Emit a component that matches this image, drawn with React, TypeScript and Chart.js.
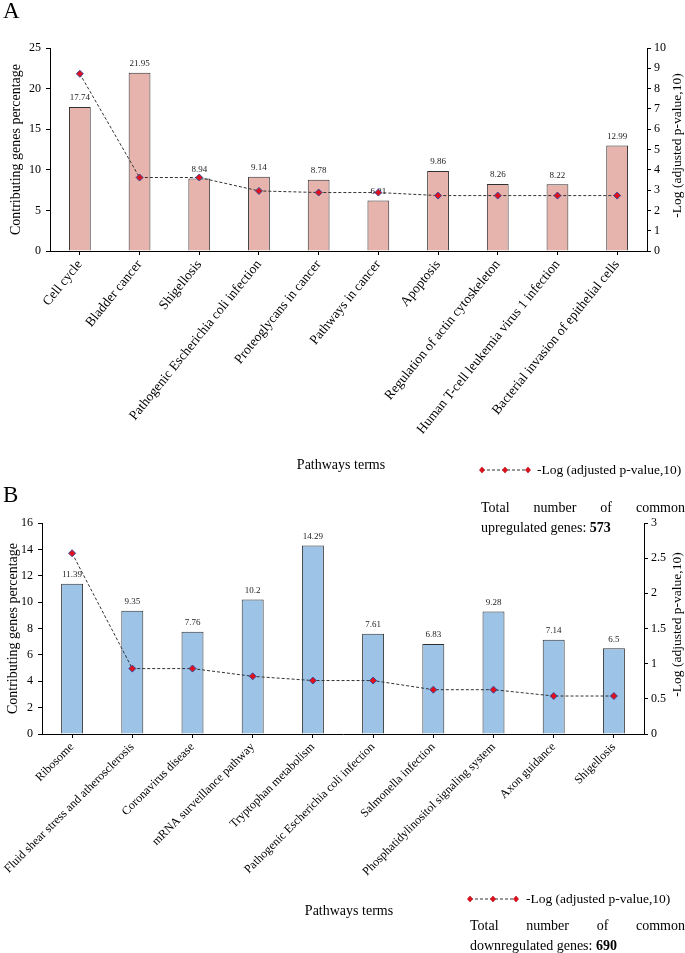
import React, { useEffect, useRef } from "react";
import { Chart, registerables } from "chart.js";

Chart.register(...registerables);

const FONT = '"Liberation Serif", "Times New Roman", Times, serif';

// ---------- Panel A data (upregulated) ----------
const upCategories = [
  "Cell cycle",
  "Bladder cancer",
  "Shigellosis",
  "Pathogenic Escherichia coli infection",
  "Proteoglycans in cancer",
  "Pathways in cancer",
  "Apoptosis",
  "Regulation of actin cytoskeleton",
  "Human T-cell leukemia virus 1 infection",
  "Bacterial invasion of epithelial cells",
];
const upPercent = [17.74, 21.95, 8.94, 9.14, 8.78, 6.21, 9.86, 8.26, 8.22, 12.99];
const upLogP = [8.73, 3.62, 3.62, 2.96, 2.88, 2.88, 2.73, 2.73, 2.73, 2.73];
const upLeftAxis = [0, 25, 5];
const upRightAxis = [0, 10, 1];
const upTotal = "573";

// ---------- Panel B data (downregulated) ----------
const downCategories = [
  "Ribosome",
  "Fluid shear stress and atherosclerosis",
  "Coronavirus disease",
  "mRNA surveillance pathway",
  "Tryptophan metabolism",
  "Pathogenic Escherichia coli infection",
  "Salmonella infection",
  "Phosphatidylinositol signaling system",
  "Axon guidance",
  "Shigellosis",
];
const downPercent = [11.39, 9.35, 7.76, 10.2, 14.29, 7.61, 6.83, 9.28, 7.14, 6.5];
const downLogP = [2.57, 0.93, 0.93, 0.82, 0.76, 0.76, 0.63, 0.63, 0.54, 0.54];
const downLeftAxis = [0, 16, 2];
const downRightAxis = [0, 3, 0.5];
const downTotal = "690";

const LEFT_TITLE = "Contributing genes percentage";
const RIGHT_TITLE = "-Log (adjusted p-value,10)";

type PanelSpec = {
  categories: string[];
  percent: number[];
  logP: number[];
  leftAxis: number[];
  rightAxis: number[];
  barColor: string;
  canvasTop: number;
  canvasHeight: number;
  area: { left: number; right: number; top: number; bottom: number }; // page coords
  leftTitleX: number;
  rightTitleX: number;
  labelSize: number;
  labelRotation: number;
};

const W = 685;

const barLabelPlugin = {
  id: "barLabels",
  afterDatasetDraw(chart: any, args: any) {
    const ds = chart.data.datasets[args.index];
    if (ds.type !== "bar") return;
    const ctx = chart.ctx;
    ctx.save();
    ctx.font = `9px ${FONT}`;
    ctx.fillStyle = "#222";
    ctx.textAlign = "center";
    ctx.textBaseline = "middle";
    args.meta.data.forEach((el: any, i: number) => {
      ctx.fillText(String(ds.data[i]), el.x, el.y - 9);
    });
    ctx.restore();
  },
};

function makeTitlePlugin(spec: PanelSpec) {
  return {
    id: "axisTitles",
    afterDraw(chart: any) {
      const ctx = chart.ctx;
      const a = chart.chartArea;
      const mid = (a.top + a.bottom) / 2;
      ctx.save();
      ctx.fillStyle = "#000";
      ctx.textAlign = "center";
      ctx.textBaseline = "middle";
      ctx.save();
      ctx.font = `14px ${FONT}`;
      ctx.translate(spec.leftTitleX, mid);
      ctx.rotate(-Math.PI / 2);
      ctx.fillText(LEFT_TITLE, 0, 0);
      ctx.restore();
      ctx.save();
      ctx.font = `13.5px ${FONT}`;
      ctx.translate(spec.rightTitleX, mid - 4);
      ctx.rotate(-Math.PI / 2);
      ctx.fillText(RIGHT_TITLE, 0, 0);
      ctx.restore();
      ctx.restore();
    },
  };
}

function buildConfig(spec: PanelSpec): any {
  const tickFont = { family: FONT, size: 12 };
  const topPad = spec.area.top - spec.canvasTop;
  const xHeight = spec.canvasTop + spec.canvasHeight - spec.area.bottom;
  return {
    type: "bar",
    data: {
      labels: spec.categories,
      datasets: [
        {
          type: "line",
          label: RIGHT_TITLE,
          data: spec.logP,
          yAxisID: "y1",
          order: 0,
          borderColor: "#333",
          borderWidth: 1,
          borderDash: [3, 2],
          tension: 0,
          fill: false,
          pointStyle: "rectRot",
          pointRadius: 3.5,
          pointBackgroundColor: "#E3101C",
          pointBorderColor: "#3B4A9A",
          pointBorderWidth: 1,
        },
        {
          type: "bar",
          label: LEFT_TITLE,
          data: spec.percent,
          yAxisID: "y",
          order: 1,
          backgroundColor: spec.barColor,
          borderColor: "#2f2f2f",
          borderWidth: 1,
          barPercentage: 0.365,
          categoryPercentage: 1,
        },
      ],
    },
    options: {
      responsive: false,
      maintainAspectRatio: false,
      animation: false,
      layout: { padding: { top: topPad, left: 0, right: 0, bottom: 0 } },
      plugins: {
        legend: { display: false },
        tooltip: { enabled: false },
        title: { display: false },
      },
      scales: {
        x: {
          type: "category",
          offset: true,
          grid: {
            display: true,
            drawOnChartArea: false,
            drawTicks: true,
            tickLength: 4,
            offset: false,
            color: "#000",
          },
          border: { display: true, color: "#000", width: 1 },
          ticks: {
            autoSkip: false,
            maxRotation: spec.labelRotation,
            minRotation: spec.labelRotation,
            padding: 2,
            color: "#000",
            font: { family: FONT, size: spec.labelSize },
          },
          afterFit: (s: any) => {
            s.height = xHeight;
          },
        },
        y: {
          position: "left",
          min: spec.leftAxis[0],
          max: spec.leftAxis[1],
          grid: {
            display: true,
            drawOnChartArea: false,
            drawTicks: true,
            tickLength: 4,
            color: "#000",
          },
          border: { display: true, color: "#000", width: 1 },
          ticks: {
            stepSize: spec.leftAxis[2],
            padding: 5,
            color: "#000",
            font: tickFont,
            callback: (v: any) => String(v),
          },
          afterFit: (s: any) => {
            s.width = spec.area.left;
          },
        },
        y1: {
          position: "right",
          min: spec.rightAxis[0],
          max: spec.rightAxis[1],
          grid: {
            display: true,
            drawOnChartArea: false,
            drawTicks: true,
            tickLength: 4,
            color: "#000",
          },
          border: { display: true, color: "#000", width: 1 },
          ticks: {
            stepSize: spec.rightAxis[2],
            padding: 3,
            color: "#000",
            font: tickFont,
            callback: (v: any) => String(v),
          },
          afterFit: (s: any) => {
            s.width = W - spec.area.right;
          },
        },
      },
    },
    plugins: [barLabelPlugin, makeTitlePlugin(spec)],
  };
}

function Panel({ spec }: { spec: PanelSpec }) {
  const ref = useRef<HTMLCanvasElement | null>(null);
  useEffect(() => {
    if (!ref.current) return;
    const chart = new Chart(ref.current, buildConfig(spec));
    return () => chart.destroy();
  }, []);
  return (
    <canvas
      ref={ref}
      width={W}
      height={spec.canvasHeight}
      style={{
        position: "absolute",
        left: 0,
        top: spec.canvasTop,
        width: W,
        height: spec.canvasHeight,
      }}
    />
  );
}

function LegendSymbol() {
  return (
    <svg width="52" height="10" style={{ display: "block" }}>
      <line x1="3" y1="5" x2="49" y2="5" stroke="#333" strokeWidth="1" strokeDasharray="3 2" />
      {[3, 26, 49].map((cx) => (
        <polygon
          key={cx}
          points={`${cx},2 ${cx + 2.6},5 ${cx},8 ${cx - 2.6},5`}
          fill="#E3101C"
          stroke="#B0101C"
          strokeWidth="0.6"
        />
      ))}
    </svg>
  );
}

const panelA: PanelSpec = {
  categories: upCategories,
  percent: upPercent,
  logP: upLogP,
  leftAxis: upLeftAxis,
  rightAxis: upRightAxis,
  barColor: "#E6B4AC",
  canvasTop: 0,
  canvasHeight: 460,
  area: { left: 50, right: 647, top: 48, bottom: 251 },
  leftTitleX: 16,
  rightTitleX: 677,
  labelSize: 13.5,
  labelRotation: 51,
};

const panelB: PanelSpec = {
  categories: downCategories,
  percent: downPercent,
  logP: downLogP,
  leftAxis: downLeftAxis,
  rightAxis: downRightAxis,
  barColor: "#9DC3E6",
  canvasTop: 470,
  canvasHeight: 480,
  area: { left: 42, right: 644, top: 523, bottom: 734 },
  leftTitleX: 13,
  rightTitleX: 677,
  labelSize: 12,
  labelRotation: 45,
};

const textBase: React.CSSProperties = {
  position: "absolute",
  fontFamily: FONT,
  color: "#000",
  whiteSpace: "nowrap",
};

export default function App() {
  return (
    <div
      style={{
        position: "absolute",
        left: 0,
        top: 0,
        width: W,
        height: 953,
        overflow: "hidden",
        background: "#fff",
      }}
    >
      <Panel spec={panelA} />
      <Panel spec={panelB} />

      {/* Panel letters */}
      <div style={{ ...textBase, left: 3, top: -1, fontSize: 23, lineHeight: "23px" }}>A</div>
      <div style={{ ...textBase, left: 3, top: 483, fontSize: 23, lineHeight: "23px" }}>B</div>

      {/* Panel A footer */}
      <div
        style={{
          ...textBase,
          left: 241,
          width: 200,
          textAlign: "center",
          top: 455,
          fontSize: 14,
          lineHeight: "20px",
        }}
      >
        Pathways terms
      </div>
      <div style={{ position: "absolute", left: 479, top: 465 }}>
        <LegendSymbol />
      </div>
      <div style={{ ...textBase, left: 537, top: 460, fontSize: 13.5, lineHeight: "20px" }}>
        {RIGHT_TITLE}
      </div>
      <div
        style={{
          ...textBase,
          whiteSpace: "normal",
          left: 481,
          width: 204,
          top: 498,
          fontSize: 14,
          lineHeight: "20px",
          textAlign: "justify",
        }}
      >
        Total number of common upregulated genes: <b>{upTotal}</b>
      </div>

      {/* Panel B footer */}
      <div
        style={{
          ...textBase,
          left: 249,
          width: 200,
          textAlign: "center",
          top: 901,
          fontSize: 14,
          lineHeight: "20px",
        }}
      >
        Pathways terms
      </div>
      <div style={{ position: "absolute", left: 467, top: 894 }}>
        <LegendSymbol />
      </div>
      <div style={{ ...textBase, left: 526, top: 889, fontSize: 13.5, lineHeight: "20px" }}>
        {RIGHT_TITLE}
      </div>
      <div
        style={{
          ...textBase,
          whiteSpace: "normal",
          left: 470,
          width: 215,
          top: 916,
          fontSize: 14,
          lineHeight: "20px",
          textAlign: "justify",
        }}
      >
        Total number of common downregulated genes: <b>{downTotal}</b>
      </div>
    </div>
  );
}
